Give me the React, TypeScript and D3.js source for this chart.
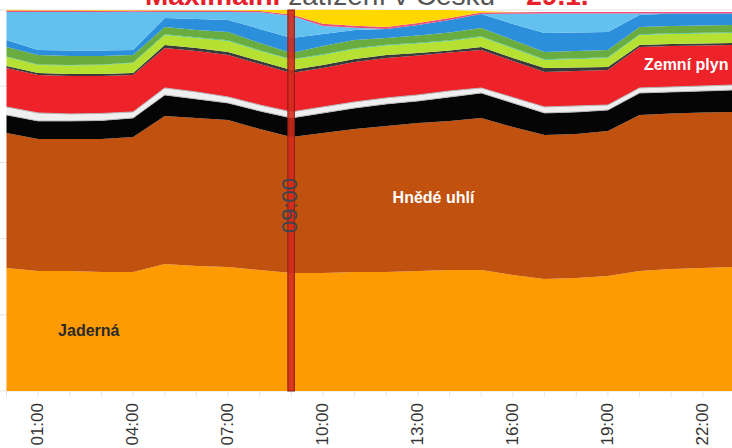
import React from "react";
import * as d3 from "d3";

const hours = ["00:00","01:00","02:00","03:00","04:00","05:00","06:00","07:00","08:00","09:00","10:00","11:00","12:00","13:00","14:00","15:00","16:00","17:00","18:00","19:00","20:00","21:00","22:00","23:00"];
const tickHours = ["01:00","04:00","07:00","10:00","13:00","16:00","19:00","22:00"];
const markerHour = "09:00";

const nuclear = [3229,3150,3150,3124,3124,3334,3281,3255,3176,3098,3098,3124,3124,3150,3176,3176,3045,2940,2966,3019,3150,3203,3229,3255];
const brownCoal = [3544,3465,3465,3491,3544,3885,3885,3859,3701,3570,3675,3754,3833,3885,3911,3990,3885,3780,3780,3806,4095,4082,4082,4069];
const blackCoal = [473,473,473,486,499,551,499,446,473,499,525,551,578,578,630,656,630,578,578,551,578,564,564,578];
const otherSrc = [210,210,184,184,158,184,184,158,158,158,158,158,158,158,158,131,144,158,158,131,131,131,131,131];
const gas = [1024,998,998,984,971,1050,1076,1103,1076,1024,1024,1050,1050,1037,1011,998,958,919,919,919,1076,1076,1063,1050];
const oil = [53,53,53,53,53,79,79,79,79,79,79,79,79,66,53,79,79,105,92,79,53,53,53,53];
const biomass = [236,210,223,236,263,263,263,289,263,263,263,263,249,249,249,263,249,210,223,236,263,263,263,263];
const biogas = [13,13,13,13,13,18,18,18,18,18,18,18,18,18,18,18,18,18,18,18,18,18,18,18];
const hydro = [249,249,236,223,197,192,192,218,192,165,218,218,179,192,205,218,205,192,192,192,192,192,192,192];
const pumped = [184,131,144,144,131,236,289,315,368,394,315,263,236,276,328,368,420,499,486,473,315,328,315,302];
const imports = [735,998,1011,1011,998,158,184,210,438,578,210,53,0,0,0,0,268,512,499,486,39,0,0,0];
const wind = [34,34,34,34,34,34,34,34,34,34,53,53,53,53,53,39,39,39,39,39,39,39,39,39];
const solar = [21,18,18,18,18,18,18,18,26,123,368,420,446,341,210,39,8,0,0,0,0,0,0,0];

const seriesNames = ["Jaderná","Hnědé uhlí","Černé uhlí","Ostatní","Zemní plyn","Olej","Biomasa","Bioplyn","Vodní","Přečerpávací","Saldo","Vítr","Slunce"];
const seriesData = [nuclear,brownCoal,blackCoal,otherSrc,gas,oil,biomass,biogas,hydro,pumped,imports,wind,solar];
const seriesColors = ["#fe9a02","#c1510f","#050505","#efefef","#ee2229","#3a3a3a","#b6e032","#3cc48f","#69ac3f","#2b8fdc","#63c1ef","#e8507f","#ffd800"];

const yTicks = [0,2000,4000,6000,8000,10000];

const W = 732, H = 448;
const FONT = "'Liberation Sans', Arial, sans-serif";

export default function App() {
  const x = d3.scaleLinear().domain([0, hours.length - 1]).range([6.5, 734.5]);
  const y = d3.scaleLinear().domain([0, 10000]).range([391, 10]);

  const rows = hours.map((h, i) => {
    const r: any = { hour: h };
    seriesNames.forEach((n, k) => { r[n] = seriesData[k][i]; });
    return r;
  });
  const stacked = d3.stack().keys(seriesNames)(rows);

  const area = d3.area<any>()
    .x((_d, i) => x(i))
    .y0(d => y(d[0]))
    .y1(d => y(d[1]));
  const lineTop = d3.line<any>().x((_d, i) => x(i)).y(d => y(d[1]));
  const lineBot = d3.line<any>().x((_d, i) => x(i)).y(d => y(d[0]));

  const midAt = (layer: number, t: number) => {
    const i0 = Math.floor(t), i1 = Math.min(i0 + 1, hours.length - 1);
    const f = t - i0;
    const s = stacked[layer];
    const m0 = (s[i0][0] + s[i0][1]) / 2, m1 = (s[i1][0] + s[i1][1]) / 2;
    return m0 + (m1 - m0) * f;
  };

  const idx = (h: string) => hours.indexOf(h);
  const mx = x(idx(markerHour));

  return (
    <svg width={W} height={H} style={{ position: "absolute", left: 0, top: 0, background: "#fff" }} fontFamily={FONT}>
      <text x={145} y={4.5} fontSize={28}>
        <tspan fill="#e8202a" fontWeight="bold">Maximální</tspan>
        <tspan fill="#555"> zatížení v Česku – </tspan>
        <tspan fill="#e8202a" fontWeight="bold">29.1.</tspan>
      </text>

      {yTicks.map(t => (
        <line key={t} x1={0} x2={W} y1={y(t)} y2={y(t)} stroke="#e3e3e3" strokeWidth={1} />
      ))}

      {stacked.map((s, k) => (
        <path key={seriesNames[k]} d={area(s as any) || ""} fill={seriesColors[k]} />
      ))}
      <path d={lineTop(stacked[3] as any) || ""} fill="none" stroke="#b8b8b8" strokeWidth={1} />
      <path d={lineBot(stacked[3] as any) || ""} fill="none" stroke="#b8b8b8" strokeWidth={1} />

      {hours.map((h, i) => (
        <line key={h} x1={x(i)} x2={x(i)} y1={392} y2={397} stroke="#e6e6e6" strokeWidth={1} />
      ))}

      <rect x={mx - 3.5} y={y(10000)} width={6.5} height={y(0) - y(10000)} fill="#d42a1e" fillOpacity={0.88} stroke="#8e1b12" strokeWidth={1} />
      <text transform={`translate(${mx - 2},${(y(0) + y(10000)) / 2 + 5}) rotate(-90)`} textAnchor="middle" dy="0.35em" fontSize={22} fill="#3a4550">{markerHour}</text>

      <text x={x(2.6)} y={y(midAt(0, 2.6)) + 5} textAnchor="middle" fontSize={16} fontWeight="bold" fill="#2a2a2a">Jaderná</text>
      <text x={x(13.49)} y={y(midAt(1, 13.49)) + 7} textAnchor="middle" fontSize={16} fontWeight="bold" fill="#ffffff">Hnědé uhlí</text>
      <text x={x(20.14)} y={y(midAt(4, 20.14)) + 3} textAnchor="start" fontSize={16} fontWeight="bold" fill="#ffffff">Zemní plyn</text>

      {tickHours.map(h => (
        <text key={h} transform={`translate(${x(idx(h)) - 1},403) rotate(-90)`} textAnchor="end" dy="0.35em" fontSize={17} fill="#333">{h}</text>
      ))}
    </svg>
  );
}
